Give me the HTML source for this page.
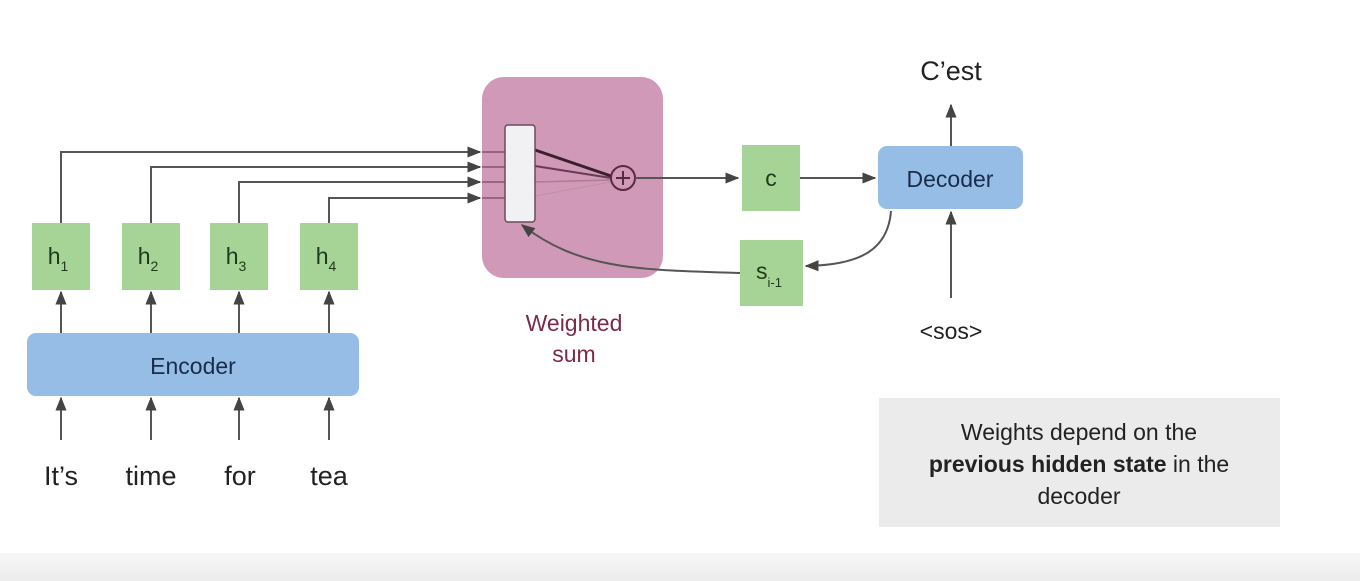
<!DOCTYPE html>
<html><head><meta charset="utf-8"><style>
html,body{margin:0;padding:0;background:#fff}
svg{display:block}
text{font-family:"Liberation Sans",sans-serif}
</style></head><body>
<svg width="1360" height="581" viewBox="0 0 1360 581" xmlns="http://www.w3.org/2000/svg">
<defs>
<marker id="a" viewBox="0 0 10 10" refX="9" refY="5" markerWidth="7" markerHeight="7" orient="auto"><path d="M0,1 L10,5 L0,9 z" fill="#444"/></marker>
<linearGradient id="bg" x1="0" y1="0" x2="0" y2="1"><stop offset="0" stop-color="#f7f7f7"/><stop offset="1" stop-color="#ececec"/></linearGradient>
</defs>
<rect x="0" y="553" width="1360" height="28" fill="url(#bg)"/>
<!-- Encoder -->
<rect x="27" y="333" width="332" height="63" rx="9" fill="#95bde6"/>
<text x="193" y="374" font-size="23" fill="#1b2c4a" text-anchor="middle">Encoder</text>
<!-- h boxes -->
<g fill="#a6d396">
<rect x="32" y="223" width="58" height="67"/><rect x="122" y="223" width="58" height="67"/>
<rect x="210" y="223" width="58" height="67"/><rect x="300" y="223" width="58" height="67"/>
</g>
<g font-size="23" fill="#1f3a1a" text-anchor="middle">
<text x="58" y="264">h<tspan font-size="14" dy="7">1</tspan></text>
<text x="148" y="264">h<tspan font-size="14" dy="7">2</tspan></text>
<text x="236" y="264">h<tspan font-size="14" dy="7">3</tspan></text>
<text x="326" y="264">h<tspan font-size="14" dy="7">4</tspan></text>
</g>
<g stroke="#555" stroke-width="2" fill="none" marker-end="url(#a)">
<line x1="61" y1="440" x2="61" y2="398"/><line x1="151" y1="440" x2="151" y2="398"/>
<line x1="239" y1="440" x2="239" y2="398"/><line x1="329" y1="440" x2="329" y2="398"/>
<line x1="61" y1="333" x2="61" y2="292"/><line x1="151" y1="333" x2="151" y2="292"/>
<line x1="239" y1="333" x2="239" y2="292"/><line x1="329" y1="333" x2="329" y2="292"/>
<polyline points="61,223 61,152 480,152"/>
<polyline points="151,223 151,167 480,167"/>
<polyline points="239,223 239,182 480,182"/>
<polyline points="329,223 329,198 480,198"/>
</g>
<g font-size="27" fill="#222" text-anchor="middle">
<text x="61" y="485">It’s</text><text x="151" y="485">time</text>
<text x="240" y="485">for</text><text x="329" y="485">tea</text>
</g>
<!-- pink box -->
<rect x="482" y="77" width="181" height="201" rx="22" fill="#d199b8"/>
<g stroke="#7a3f5c" stroke-width="1.5" opacity="0.8">
<line x1="482" y1="152" x2="506" y2="152"/><line x1="482" y1="167" x2="506" y2="167"/>
<line x1="482" y1="182" x2="506" y2="182"/><line x1="482" y1="198" x2="506" y2="198"/>
</g>
<line x1="535" y1="150" x2="611" y2="176" stroke="#3a1f2c" stroke-width="3"/>
<line x1="535" y1="166" x2="611" y2="178" stroke="#6a3a52" stroke-width="2"/>
<line x1="535" y1="182" x2="611" y2="180" stroke="#a97d93" stroke-width="1.5"/>
<line x1="535" y1="196" x2="611" y2="182" stroke="#b894a6" stroke-width="1"/>
<rect x="505" y="125" width="30" height="97" rx="3" fill="#f1f1f4" stroke="#6b4a5a" stroke-width="1.5"/>
<circle cx="623" cy="178" r="12" fill="none" stroke="#5a2a40" stroke-width="2"/>
<line x1="616" y1="178" x2="630" y2="178" stroke="#5a2a40" stroke-width="2"/>
<line x1="623" y1="171" x2="623" y2="185" stroke="#5a2a40" stroke-width="2"/>
<text x="574" y="331" font-size="23" fill="#7b2a4a" text-anchor="middle">Weighted</text>
<text x="574" y="362" font-size="23" fill="#7b2a4a" text-anchor="middle">sum</text>
<!-- c / s -->
<rect x="742" y="145" width="58" height="66" fill="#a6d396"/>
<text x="771" y="186" font-size="23" fill="#1f3a1a" text-anchor="middle">c</text>
<rect x="740" y="240" width="63" height="66" fill="#a6d396"/>
<text x="756" y="279" font-size="23" fill="#1f3a1a">s<tspan font-size="13" dy="8">i-1</tspan></text>
<g stroke="#555" stroke-width="2" fill="none" marker-end="url(#a)">
<line x1="635" y1="178" x2="738" y2="178"/>
<line x1="800" y1="178" x2="875" y2="178"/>
<path d="M740,273 C640,270 580,270 522,225"/>
<path d="M891,211 C888,250 860,265 806,266"/>
<line x1="951" y1="146" x2="951" y2="105"/>
<line x1="951" y1="298" x2="951" y2="212"/>
</g>
<rect x="878" y="146" width="145" height="63" rx="9" fill="#95bde6"/>
<text x="950" y="187" font-size="23" fill="#1b2c4a" text-anchor="middle">Decoder</text>
<text x="951" y="80" font-size="27" fill="#222" text-anchor="middle">C’est</text>
<text x="951" y="339" font-size="23" fill="#222" text-anchor="middle">&lt;sos&gt;</text>
<!-- note -->
<rect x="879" y="398" width="401" height="129" fill="#ebebeb"/>
<g font-size="23" fill="#222" text-anchor="middle">
<text x="1079" y="440">Weights depend on the</text>
<text x="1079" y="472"><tspan font-weight="bold">previous hidden state</tspan> in the</text>
<text x="1079" y="504">decoder</text>
</g>
</svg>
</body></html>
